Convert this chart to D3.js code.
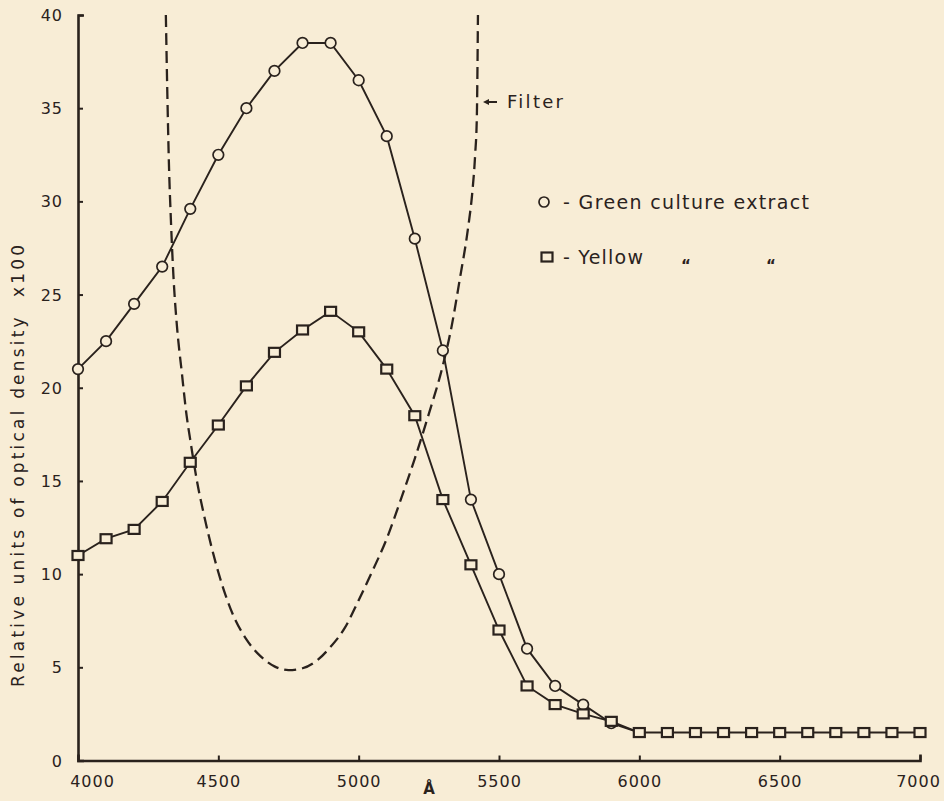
<!DOCTYPE html>
<html><head><meta charset="utf-8">
<script src="https://cdn.jsdelivr.net/npm/d3@7"></script>
<style>
html,body{margin:0;padding:0;background:#f8edd6;}
svg{display:block;}
text{font-family:"DejaVu Sans","Liberation Sans",sans-serif;fill:#2a221d;}
</style></head>
<body>
<svg id="c" width="944" height="801"></svg>
<script>
// ---- data ----
const wavelengths = [4000,4100,4200,4300,4400,4500,4600,4700,4800,4900,5000,5100,5200,5300,5400,5500,5600,5700,5800,5900,6000,6100,6200,6300,6400,6500,6600,6700,6800,6900,7000];
const greenValues = [21,22.5,24.5,26.5,29.6,32.5,35,37,38.5,38.5,36.5,33.5,28,22,14,10,6,4,3,2.0,1.5];
const yellowValues = [11,11.9,12.4,13.9,16,18,20.1,21.9,23.1,24.1,23,21,18.5,14,10.5,7,4,3,2.5,2.1,1.5,1.5,1.5,1.5,1.5,1.5,1.5,1.5,1.5,1.5,1.5];
const filterWavelengths = [4313,4318,4324,4331,4340,4352,4370,4387,4400,4425,4450,4475,4500,4525,4550,4600,4650,4700,4750,4800,4850,4900,4950,5000,5050,5100,5150,5200,5250,5300,5330,5360,5390,5405,5415,5421,5425];
const filterValues = [40,36,32,29,26,23.4,20.8,18.5,17.2,14.9,13.1,11.5,10.1,8.9,7.9,6.5,5.6,5.05,4.85,4.95,5.35,6.1,7.1,8.6,10.2,11.9,14.0,16.2,18.6,21.2,23.2,25.8,28.6,30.5,32.5,34.5,40];
const xTicks = [4000,4500,5000,5500,6000,6500,7000];
const yTicks = [0,5,10,15,20,25,30,35,40];
const yTitle = "Relative units of optical density  x100";
const legendLabels = ["- Green culture extract","- Yellow"];
const filterLabel = "Filter";
const unitLabel = "Å";

const ink = "#2a221d", bg = "#f8edd6";
const svg = d3.select("#c");
const x = d3.scaleLinear().domain([4000,7000]).range([78,920]);
const y = d3.scaleLinear().domain([0,40]).range([760.5,15]);

// axes
const gx = svg.append("g").attr("transform","translate(0,760.5)")
  .call(d3.axisBottom(x).tickValues(xTicks).tickSizeInner(-5).tickSizeOuter(-6).tickPadding(15).tickFormat(d3.format("d")));
const gy = svg.append("g").attr("transform","translate(78,0)")
  .call(d3.axisLeft(y).tickValues(yTicks).tickSizeInner(-5).tickSizeOuter(-6).tickPadding(15));
[gx,gy].forEach(g=>{
  g.select(".domain").attr("stroke",ink).attr("stroke-width",2.6);
  g.selectAll(".tick line").attr("stroke",ink).attr("stroke-width",2);
  g.selectAll(".tick text").attr("fill",ink).style("font-size","16px").style("letter-spacing","1px")
   .style("font-family","'DejaVu Sans',sans-serif");
});
gx.selectAll(".tick text").filter(d=>d===4000).attr("dx",14);
gx.selectAll(".tick text").filter(d=>d===7000).attr("dx",-2);
gy.selectAll(".tick text").attr("dy","0.35em");

// y title
svg.append("text").attr("transform","translate(24,466) rotate(-90)")
  .attr("text-anchor","middle").style("font-size","17px").style("white-space","pre")
  .attr("textLength",442).attr("lengthAdjust","spacing").text(yTitle);

// unit
svg.append("text").attr("x",429).attr("y",794).attr("text-anchor","middle")
  .style("font-size","15px").style("font-weight","bold").text(unitLabel);

// filter dashed curve
const fdata = filterWavelengths.map((w,i)=>[w,filterValues[i]]);
svg.append("path").datum(fdata)
  .attr("d", d3.line().x(d=>x(d[0])).y(d=>y(d[1])).curve(d3.curveMonotoneX))
  .attr("fill","none").attr("stroke",ink).attr("stroke-width",2.3).attr("stroke-dasharray","12,6");

// series lines
const gdata = greenValues.map((v,i)=>[wavelengths[i],v]);
const ydata = yellowValues.map((v,i)=>[wavelengths[i],v]);
const line = d3.line().x(d=>x(d[0])).y(d=>y(d[1]));
svg.append("path").datum(gdata).attr("d",line).attr("fill","none").attr("stroke",ink).attr("stroke-width",1.9);
svg.append("path").datum(ydata).attr("d",line).attr("fill","none").attr("stroke",ink).attr("stroke-width",1.9);

// markers
svg.append("g").selectAll("circle").data(gdata.slice(0,20)).join("circle")
  .attr("cx",d=>x(d[0])).attr("cy",d=>y(d[1])).attr("r",5.3)
  .attr("fill",bg).attr("stroke",ink).attr("stroke-width",1.7);
svg.append("g").selectAll("rect").data(ydata).join("rect")
  .attr("x",d=>x(d[0])-5.5).attr("y",d=>y(d[1])-4.5).attr("width",11).attr("height",9)
  .attr("fill",bg).attr("stroke",ink).attr("stroke-width",2.2);

// legend
svg.append("circle").attr("cx",544).attr("cy",202).attr("r",5).attr("fill",bg).attr("stroke",ink).attr("stroke-width",1.7);
svg.append("text").attr("x",563).attr("y",209).style("font-size","19px").style("white-space","pre")
  .attr("textLength",246).attr("lengthAdjust","spacing").text(legendLabels[0]);
svg.append("rect").attr("x",541.5).attr("y",252.5).attr("width",11).attr("height",9)
  .attr("fill",bg).attr("stroke",ink).attr("stroke-width",2.2);
svg.append("text").attr("x",563).attr("y",264).style("font-size","19px").style("white-space","pre")
  .attr("textLength",80).attr("lengthAdjust","spacing").text(legendLabels[1]);
[686,771].forEach(px=>{
  svg.append("text").attr("x",px).attr("y",271).attr("text-anchor","middle").style("font-size","15px").style("font-weight","bold").text("\u201C");
});

// filter label with arrow
svg.append("line").attr("x1",497).attr("y1",102).attr("x2",486).attr("y2",102).attr("stroke",ink).attr("stroke-width",2);
svg.append("path").attr("d","M483,102 L489,99 L489,105 Z").attr("fill",ink);
svg.append("text").attr("x",507).attr("y",108).style("font-size","18px")
  .attr("textLength",56).attr("lengthAdjust","spacing").text(filterLabel);
</script>
</body></html>
